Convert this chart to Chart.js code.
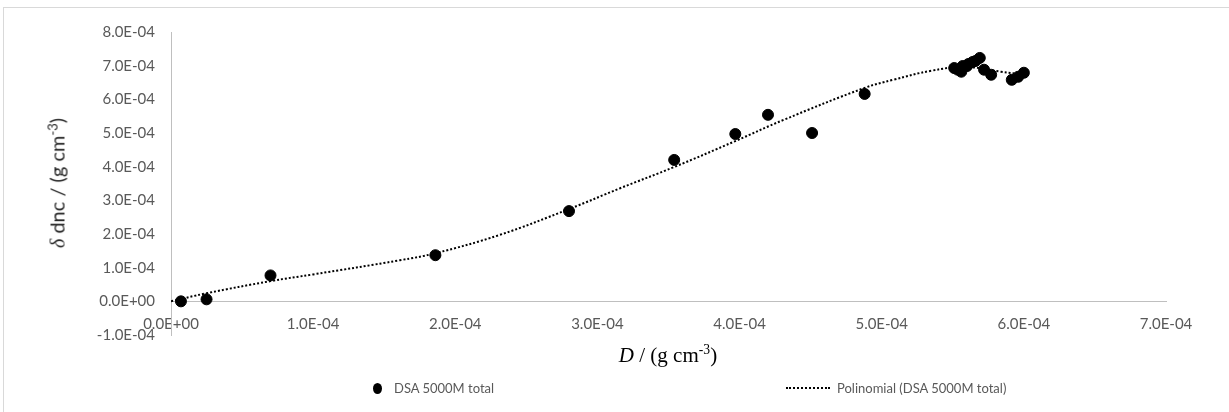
<!DOCTYPE html>
<html>
<head>
<meta charset="utf-8">
<script src="https://cdn.jsdelivr.net/npm/chart.js@4.4.0/dist/chart.umd.min.js"></script>
<style>
  body { margin: 0; background: #fff; }
  #wrap { position: relative; width: 1229px; height: 412px; overflow: hidden; }
  #chart { position: absolute; left: 0; top: 0; }
  #frame { position: absolute; left: 3px; top: 7px; width: 1240px; height: 420px;
           border: 1px solid #d9d9d9; box-sizing: border-box; pointer-events: none; }
  .ytitle { position: absolute; left: 57px; top: 183px; transform: translate(-50%, -50%) rotate(-90deg);
            white-space: nowrap; font-family: Lato, sans-serif; font-size: 20px; color: #262626; }
  .xtitle { position: absolute; left: 668px; top: 355px; transform: translate(-50%, -50%);
            white-space: nowrap; font-family: "Liberation Serif", serif; font-size: 21px; color: #000; }
  .serif { font-family: "Liberation Serif", serif; font-style: italic; }
  sup { font-size: 0.65em; vertical-align: 0.55em; line-height: 0; }
  .legend { position: absolute; top: 380px; font-family: Lato, sans-serif;
            font-size: 13px; color: #595959; white-space: nowrap; }
  .dot { position: absolute; left: 373px; top: 383px; width: 9px; height: 11px; border-radius: 50%; background: #000; }
  .dash { position: absolute; left: 786px; top: 387px; width: 44px; border-top: 2px dotted #000; }
</style>
</head>
<body>
<div id="wrap">
  <canvas id="chart" width="1229" height="412"></canvas>
  <div class="ytitle"><span class="serif">δ</span> dnc / (g cm<sup>-3</sup>)</div>
  <div class="xtitle"><i>D</i> / (g cm<sup>-3</sup>)</div>
  <div class="dot"></div>
  <div class="legend" style="left:394px">DSA 5000M total</div>
  <div class="dash"></div>
  <div class="legend" style="left:837px">Polinomial (DSA 5000M total)</div>
  <div id="frame"></div>
</div>
<script>
// measured points (D, delta dnc), both in g cm-3
const measuredD = [0.07e-4, 0.25e-4, 0.70e-4, 1.86e-4, 2.80e-4, 3.54e-4, 3.97e-4, 4.20e-4, 4.51e-4, 4.88e-4,
  5.51e-4, 5.535e-4, 5.56e-4, 5.57e-4, 5.60e-4, 5.61e-4, 5.64e-4, 5.66e-4, 5.69e-4, 5.72e-4, 5.77e-4,
  5.915e-4, 5.96e-4, 6.00e-4];
const measuredDelta = [0.00e-4, 0.06e-4, 0.77e-4, 1.37e-4, 2.68e-4, 4.20e-4, 4.97e-4, 5.54e-4, 5.00e-4, 6.16e-4,
  6.93e-4, 6.88e-4, 6.82e-4, 6.99e-4, 6.99e-4, 7.05e-4, 7.11e-4, 7.14e-4, 7.23e-4, 6.88e-4, 6.73e-4,
  6.58e-4, 6.67e-4, 6.79e-4];

// polynomial trendline
const trendD = [0, 0.25e-4, 0.70e-4, 1.00e-4, 1.61e-4, 1.86e-4, 2.31e-4, 2.80e-4, 3.16e-4, 3.54e-4,
  3.97e-4, 4.31e-4, 4.88e-4, 5.08e-4, 5.35e-4, 5.59e-4, 5.84e-4, 6.01e-4];
const trendDelta = [0, 0.24e-4, 0.60e-4, 0.80e-4, 1.22e-4, 1.43e-4, 1.97e-4, 2.74e-4, 3.36e-4, 3.99e-4,
  4.76e-4, 5.39e-4, 6.34e-4, 6.58e-4, 6.85e-4, 6.96e-4, 6.82e-4, 6.73e-4];

const xTickValues = [0, 1e-4, 2e-4, 3e-4, 4e-4, 5e-4, 6e-4, 7e-4];
const yTickValues = [-1e-4, 0, 1e-4, 2e-4, 3e-4, 4e-4, 5e-4, 6e-4, 7e-4, 8e-4];

function sci(v) {
  // 8.0E-04 style, like Excel
  const parts = Number(v).toExponential(1).split('e');
  const exp = parseInt(parts[1], 10);
  const sign = exp < 0 ? '-' : '+';
  return parts[0] + 'E' + sign + String(Math.abs(exp)).padStart(2, '0');
}

const tickFont = { family: 'Lato, sans-serif', size: 15 };

new Chart(document.getElementById('chart'), {
  type: 'scatter',
  data: {
    datasets: [
      {
        type: 'line',
        label: 'Polinomial (DSA 5000M total)',
        data: trendD.map((d, i) => ({ x: d, y: trendDelta[i] })),
        borderColor: '#000',
        borderWidth: 2,
        borderDash: [2, 2],
        pointRadius: 0,
        tension: 0.4,
        fill: false,
        order: 0
      },
      {
        label: 'DSA 5000M total',
        data: measuredD.map((d, i) => ({ x: d, y: measuredDelta[i] })),
        backgroundColor: '#000',
        borderColor: '#000',
        pointRadius: 5.5,
        order: 1
      }
    ]
  },
  options: {
    responsive: false,
    animation: false,
    layout: { padding: { left: 0, top: 32, right: 63, bottom: 77 } },
    plugins: { legend: { display: false }, tooltip: { enabled: false } },
    scales: {
      x: {
        type: 'linear',
        position: { y: 0 },
        min: 0,
        max: 7e-4,
        afterBuildTicks: s => { s.ticks = xTickValues.map(v => ({ value: v })); },
        grid: { display: false, drawTicks: false },
        border: { display: true, color: '#bfbfbf', width: 1 },
        ticks: { callback: v => sci(v), color: '#595959', font: tickFont, padding: 14, maxRotation: 0 }
      },
      y: {
        type: 'linear',
        min: -1e-4,
        max: 8e-4,
        afterBuildTicks: s => { s.ticks = yTickValues.map(v => ({ value: v })); },
        afterFit: s => { s.width = 171; },
        grid: { display: false, drawTicks: false },
        border: { display: true, color: '#bfbfbf', width: 1 },
        ticks: { callback: v => sci(v), color: '#595959', font: tickFont, padding: 16 }
      }
    }
  }
});
</script>
</body>
</html>
